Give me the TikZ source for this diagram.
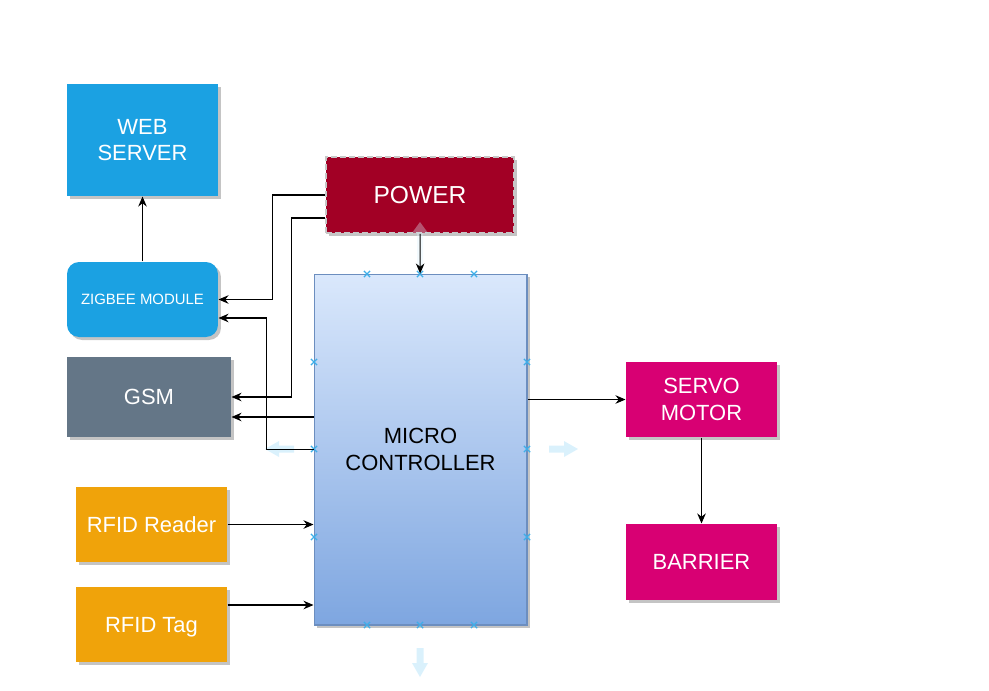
\documentclass[tikz,border=0pt]{standalone}
\usepackage{fontspec}
\setmainfont{Liberation Sans}
\usetikzlibrary{arrows.meta,shadows,shapes.misc}
\definecolor{wsblue}{HTML}{1BA1E2}
\definecolor{gsmgrey}{HTML}{647687}
\definecolor{rfidorange}{HTML}{F0A30A}
\definecolor{powerred}{HTML}{A20025}
\definecolor{servopink}{HTML}{D80073}
\definecolor{mctop}{HTML}{DAE8FC}
\definecolor{mcbot}{HTML}{7EA6E0}
\definecolor{mcline}{HTML}{6C8EBF}
\definecolor{shade}{HTML}{C4C4C4}
\definecolor{xblue}{HTML}{3DAEE9}
\definecolor{hintblue}{HTML}{DAF1FC}
\tikzset{
every picture/.style={
line width=0.6pt
}}

\begin{document}
\begin{tikzpicture}[x=0.02cm, y=-0.02cm, >={Stealth[length=0.2cm,width=0.17cm]},
block/.style = {rectangle, text=white, align=center, font=\fontsize{12.5}{15.3}\selectfont,
  drop shadow={shadow xshift=0.06cm, shadow yshift=-0.06cm, fill=shade, opacity=1}},
xmark/.style = {cross out, draw=xblue, minimum size=0.1cm, inner sep=0pt, line width=0.7pt},
pics/hint/.style = {code={\fill[hintblue] (0,-3.5) -- (15,-3.5) -- (15,-8) -- (29,0)
  -- (15,8) -- (15,3.5) -- (0,3.5) -- cycle;}}]
\useasboundingbox (0,0) rectangle (989,690);
\node[block, fill=wsblue, minimum width=3.02cm, minimum height=2.24cm] at (142.5,140) (ws) {WEB\\SERVER};
\node[block, fill=wsblue, rounded corners=0.24cm, minimum width=3.02cm, minimum height=1.5cm,
  font=\fontsize{8.5}{10}\selectfont] at (142.5,299.5) (zb) {ZIGBEE MODULE};
\node[block, fill=gsmgrey, minimum width=3.28cm, minimum height=1.6cm] at (149,397) (gsm) {GSM};
\node[block, fill=rfidorange, minimum width=3.02cm, minimum height=1.5cm] at (151.5,524.5) (rr) {RFID Reader};
\node[block, fill=rfidorange, minimum width=3.02cm, minimum height=1.5cm, text depth=0pt] at (151.5,624.5) (rt) {RFID Tag};
\node[block, fill=powerred, draw=black!22, dash pattern=on 0.12cm off 0.06cm, line width=0.9pt,
  minimum width=3.76cm, minimum height=1.52cm, font=\fontsize{14}{16}\selectfont] at (420,195) (pw) {POWER};
\node[block, text=black, top color=mctop, bottom color=mcbot, draw=mcline,
  minimum width=4.26cm, minimum height=7.02cm] at (420.5,449.5) (mc) {MICRO\\CONTROLLER};
\node[block, fill=servopink, minimum width=3.02cm, minimum height=1.5cm] at (701.5,399.5) (sv) {SERVO\\MOTOR};
\node[block, fill=servopink, minimum width=3.02cm, minimum height=1.52cm] at (701.5,562) (br) {BARRIER};
% connection points on the controller
\foreach \p [count=\i] in {(367,274),(420,274),(474,274),(314,362),(314,449),(314,537),
  (527,362),(527,449),(527,537),(367,625),(420,625),(474,625)}
  \node[xmark] (x\i) at \p {};
\pic[rotate=180] at (294,449) {hint};
\pic at (549,449) {hint};
\pic[rotate=-90] at (420,648) {hint};
\fill[hintblue, opacity=0.35] (417,270) -- (417,233) -- (412,233) -- (420,222) -- (428,233)
  -- (423,233) -- (423,270) -- cycle;
\coordinate (g2) at ([yshift=-0.4cm]gsm.east);
\coordinate (z2) at ([yshift=-0.37cm]zb.east);
\coordinate (t2) at ([yshift=0.39cm]rt.east);
\draw [->] (zb) -- (ws);
\draw [->] (pw.west) -- ++(-53,0) |- (zb.east);
\draw [->] ([yshift=-0.46cm]pw.west) -- ++(-34,0) |- (gsm.east);
\draw [->] (pw) -- (mc);
\draw [->] (mc.west) -- ++(-47,0) |- (z2);
\draw [->] (mc.west |- g2) -- (g2);
\draw [->] (rr) -- (rr -| mc.west);
\draw [->] (t2) -- (t2 -| mc.west);
\draw [->] (mc.east |- sv) -- (sv);
\draw [->] (sv) -- (br);
\end{tikzpicture}
\end{document}
